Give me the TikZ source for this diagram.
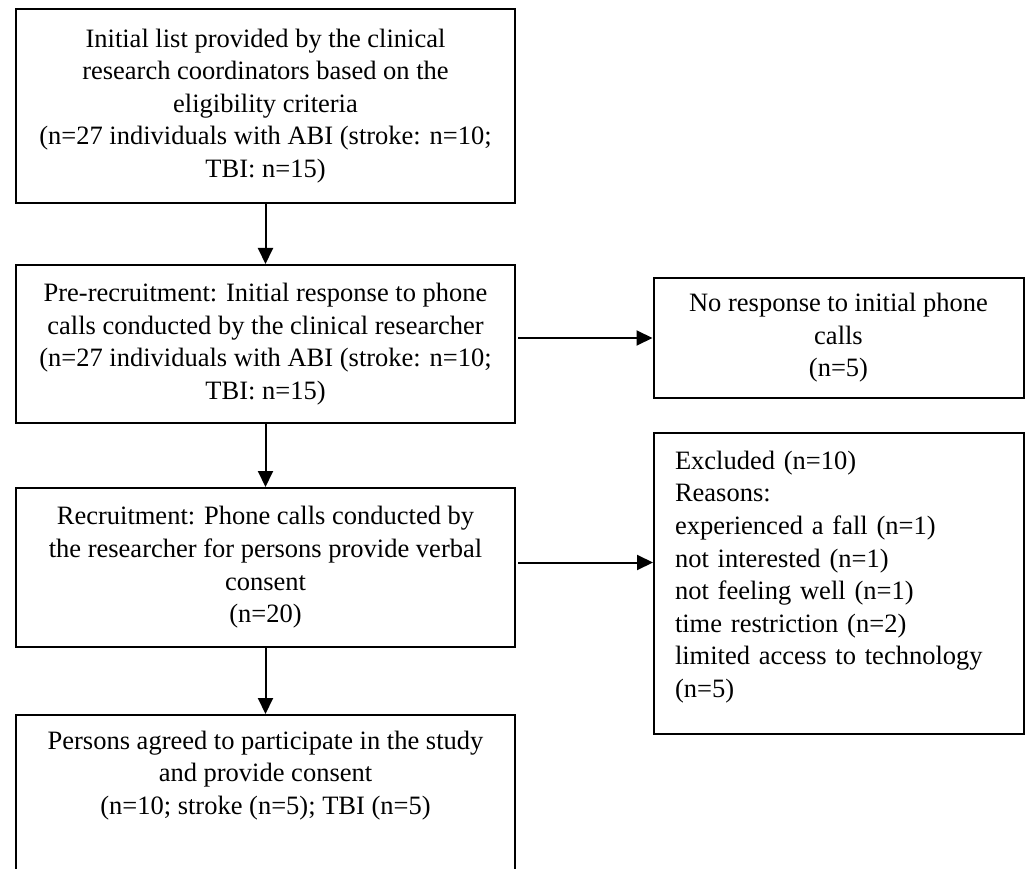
\documentclass[tikz,border=0pt]{standalone}
\usepackage{fontspec}
\setmainfont{Liberation Serif}
\usepackage{tikz}
\usetikzlibrary{positioning,arrows.meta}

\begin{document}
\begin{tikzpicture}[x=1pt, y=-1pt,
  flowbox/.style={draw, line width=2pt, minimum width=499pt, align=center, inner sep=0pt, font=\fontsize{26.5pt}{32.6pt}\selectfont},
  sidebox/.style={draw, line width=2pt, minimum width=370pt, font=\fontsize{26.5pt}{32.6pt}\selectfont},
  flowarrow/.style={-{Triangle[length=16pt,width=15pt]}, line width=2pt}]
\useasboundingbox (0,0) rectangle (1026,869);
\clip (0,0) rectangle (1026,869);
\node[flowbox, minimum height=194pt] (list) at (265.5,106) {Initial list provided by the clinical\\research coordinators based on the\\eligibility criteria\\(n=27 individuals with ABI (stroke: n=10;\\TBI: n=15)};
\node[flowbox, minimum height=158pt] (prerecruit) at (265.5,344) {Pre-recruitment: Initial response to phone\\calls conducted by the clinical researcher\\(n=27 individuals with ABI (stroke: n=10;\\TBI: n=15)};
\node[flowbox, minimum height=159pt] (recruit) at (265.5,567.5) {Recruitment: Phone calls conducted by\\the researcher for persons provide verbal\\consent\\(n=20)};
\node[flowbox, anchor=north, inner ysep=16pt, text depth=200pt] (agreed) at (265.5,714) {Persons agreed to participate in the study\\and provide consent\\(n=10; stroke (n=5); TBI (n=5)};
\node[sidebox, align=center, minimum height=120pt, inner sep=0pt] (noresp) at (838.5,338) {No response to initial phone\\calls\\(n=5)};
\node[sidebox, anchor=north west, align=left, text width=328pt, inner xsep=21pt, inner ysep=18pt, text depth=247pt] (excluded) at (653,432) {Excluded (n=10)\\Reasons:\\experienced a fall (n=1)\\not interested (n=1)\\not feeling well (n=1)\\time restriction (n=2)\\limited access to technology\\(n=5)};
\draw[flowarrow] (list) -- (prerecruit);
\draw[flowarrow] (prerecruit) -- (recruit);
\draw[flowarrow] (recruit) -- (agreed);
\draw[flowarrow, shorten <=2pt] (prerecruit.east |- noresp.west) -- (noresp.west);
\draw[flowarrow, shorten <=2pt] ([yshift=5pt]recruit.east) -- ([yshift=5pt]recruit.east -| excluded.west);
\end{tikzpicture}
\end{document}
